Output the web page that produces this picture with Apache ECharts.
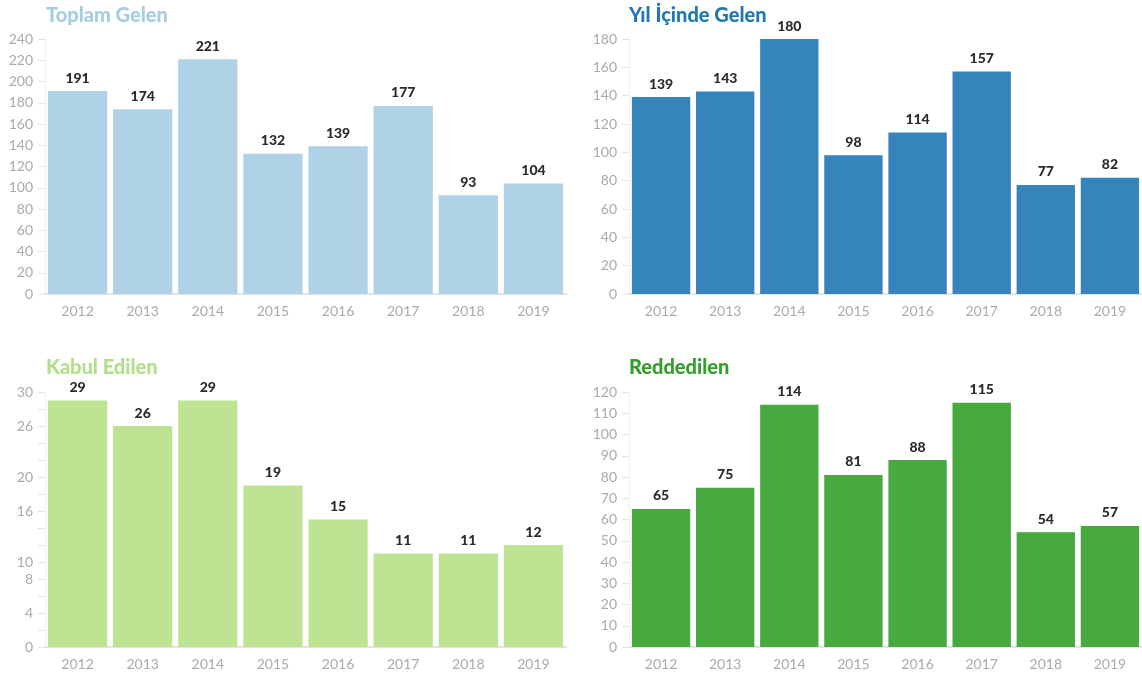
<!DOCTYPE html>
<html><head><meta charset="utf-8">
<script src="https://cdn.jsdelivr.net/npm/echarts@6/dist/echarts.min.js"></script>
<style>html,body{margin:0;padding:0;background:#fff;overflow:hidden}#c{width:1142px;height:677px}</style>
</head><body><div id="c"></div>
<script>
const years = ['2012','2013','2014','2015','2016','2017','2018','2019'];
const toplamGelen = [191,174,221,132,139,177,93,104];
const yilIcindeGelen = [139,143,180,98,114,157,77,82];
const kabulEdilen = [29,26,29,19,15,11,11,12];
const reddedilen = [65,75,114,81,88,115,54,57];
const titles = ['Toplam Gelen','Yıl İçinde Gelen','Kabul Edilen','Reddedilen'];
const kabulLabels = [0,4,8,10,16,20,26,30];

const chart = echarts.init(document.getElementById('c'));
const grids = [
  {left:45,right:576,top:39,bottom:383},
  {left:629,right:-8,top:39,bottom:383},
  {left:45,right:576,top:392,bottom:30},
  {left:629,right:-8,top:392,bottom:30}
];
const barColors = ['#afd2e6','#3585bc','#bde393','#48a93f'];
const titleColors = ['#a6cee3','#1f78b4','#b2df8a','#33a02c'];
const data = [toplamGelen,yilIcindeGelen,kabulEdilen,reddedilen];
const yCfg = [{max:240,interval:20},{max:180,interval:20},{max:30,interval:2},{max:120,interval:10}];
const titlePos = [{left:46,top:6},{left:629,top:6},{left:46,top:358},{left:629,top:358}];
const font = 'Lato, "Open Sans", sans-serif';

const option = {
  animation:false,
  title: titles.map((t,i)=>({text:t,left:titlePos[i].left,top:titlePos[i].top,padding:0,
    textStyle:{color:titleColors[i],fontSize:20,fontWeight:900,fontFamily:font}})),
  grid: grids,
  xAxis: grids.map((g,i)=>({type:'category',gridIndex:i,data:years,
    axisLine:{lineStyle:{color:'#e3e3e3',width:2}},
    axisTick:{alignWithLabel:true,length:6,lineStyle:{color:'#e3e3e3'}},
    axisLabel:{color:'#aaaaaa',fontSize:14,fontFamily:font,margin:10}})),
  yAxis: grids.map((g,i)=>({type:'value',gridIndex:i,min:0,max:yCfg[i].max,interval:yCfg[i].interval,
    splitLine:{show:false},
    axisLine:{show:true,lineStyle:{color:'#eeeeee',width:1}},
    axisTick:{show:true,length:7,lineStyle:{color:'#e3e3e3'}},
    axisLabel:{color:'#aaaaaa',fontSize:14,fontFamily:font,margin:12,
      showMinLabel:true,showMaxLabel:true,hideOverlap:false,
      formatter: i===2 ? (v=>kabulLabels.indexOf(v)>=0?String(v):'') : (v=>String(v))}})),
  series: data.map((d,i)=>({type:'bar',xAxisIndex:i,yAxisIndex:i,data:d,
    barCategoryGap:'9%',
    itemStyle:{color:barColors[i]},
    label:{show:true,position:'top',distance:6,color:'#2b2b2b',fontWeight:900,fontSize:14,fontFamily:font}}))
};
chart.setOption(option);
</script></body></html>
